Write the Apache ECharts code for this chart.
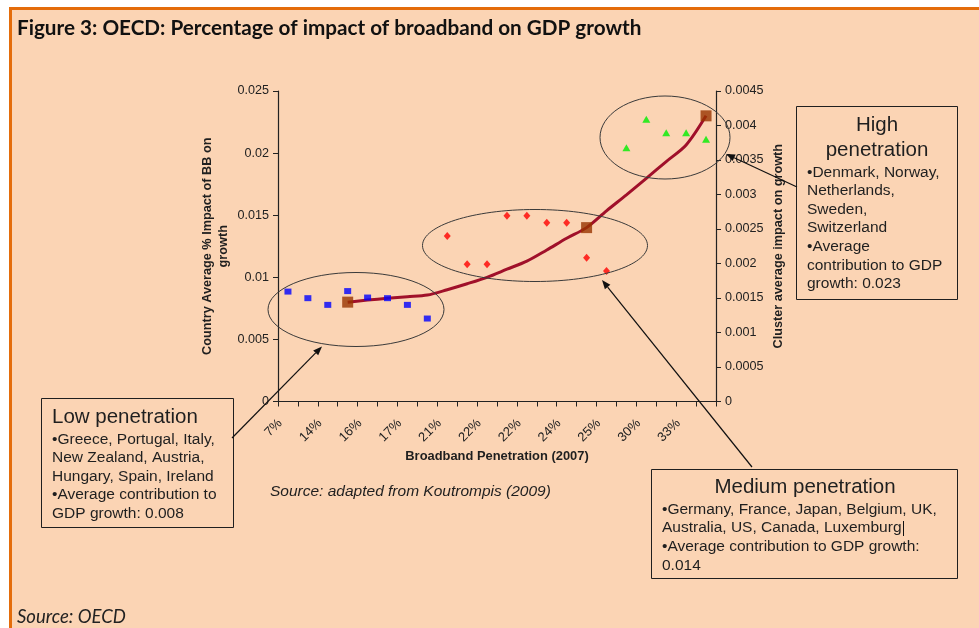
<!DOCTYPE html>
<html>
<head>
<meta charset="utf-8">
<script src="https://cdn.jsdelivr.net/npm/echarts@6/dist/echarts.min.js"></script>
<style>
  html, body { margin: 0; padding: 0; background: #ffffff; }
  #chart { width: 979px; height: 628px; }
</style>
</head>
<body>
<div id="chart"></div>
<script>
// Broadband penetration per country (2007), ordered from lowest to highest
const penetration = ['7%', '12%', '14%', '15%', '16%', '16%', '17%', '19%', '21%', '21%', '22%',
                     '22%', '22%', '23%', '24%', '25%', '25%', '27%', '30%', '31%', '33%', '35%'];

// Country average % impact of broadband on growth, per penetration cluster
const lowImpact = [0.00885, 0.00832, 0.00778, 0.00889, 0.00837, 0.00832, 0.00778, 0.00668];
const mediumImpact = [0.01333, 0.01105, 0.01105, 0.01496, 0.01496, 0.0144, 0.0144, 0.01158, 0.01051];
const highImpact = [0.02044, 0.02272, 0.02164, 0.02164, 0.02111];

// Cluster average trend, starting at the fourth country
const trendStart = 3;
const clusterTrend = [0.0080, 0.00817, 0.00831, 0.00844, 0.00857, 0.0090, 0.00948, 0.0100, 0.01065,
                      0.0113, 0.0122, 0.01314, 0.014, 0.01535, 0.01664, 0.01797, 0.01932, 0.02065, 0.023];

// Average contribution of each cluster and the country where it is marked
const clusterAverages = [0.008, 0.014, 0.023];
const clusterAt = [3, 15, 21];

const leftTicks = { min: 0, max: 0.025, interval: 0.005 };
const rightTicks = { min: 0, max: 0.0045, interval: 0.0005 };

const PEACH = '#FBD4B4';
const ORANGE = '#E46C0A';
const INK = '#1f1f1f';
const SANS = '"Liberation Sans", Arial, sans-serif';

const lowOffset = 0;
const mediumOffset = lowImpact.length;
const highOffset = lowImpact.length + mediumImpact.length;

const lowData = lowImpact.map((v, i) => [lowOffset + i, v]);
const mediumData = mediumImpact.map((v, i) => [mediumOffset + i, v]);
const highData = highImpact.map((v, i) => [highOffset + i, v]);
const trendData = penetration.map((_, i) =>
  i >= trendStart ? clusterTrend[i - trendStart] : null);
const averageData = clusterAverages.map((v, i) => [clusterAt[i], v]);

// Line with an arrowhead at its end point
function arrow(x1, y1, x2, y2) {
  const a = Math.atan2(y2 - y1, x2 - x1);
  const len = 9, half = 3.5;
  const bx = x2 - len * Math.cos(a), by = y2 - len * Math.sin(a);
  const px = -Math.sin(a) * half, py = Math.cos(a) * half;
  return [
    { type: 'line', shape: { x1: x1, y1: y1, x2: bx, y2: by },
      style: { stroke: '#111', lineWidth: 1.2 }, z: 20 },
    { type: 'polygon', shape: { points: [[x2, y2], [bx + px, by + py], [bx - px, by - py]] },
      style: { fill: '#111' }, z: 20 }
  ];
}

function txt(x, y, text, font, align) {
  return { type: 'text', x: x, y: y, z: 20,
    style: { text: text, font: font, fill: INK, align: align || 'left', verticalAlign: 'middle' } };
}

function ring(cx, cy, rx, ry) {
  return { type: 'ellipse', shape: { cx: cx, cy: cy, rx: rx, ry: ry }, z: 15,
    style: { fill: 'none', stroke: '#3a3a3a', lineWidth: 1 } };
}

const bodyFont = '15.5px ' + SANS;
const headFont = '20.5px ' + SANS;

const graphics = [
  // page panel with orange frame
  { type: 'rect', shape: { x: 9, y: 7, width: 980, height: 630 }, style: { fill: PEACH }, z: -10 },
  { type: 'rect', shape: { x: 9, y: 7, width: 980, height: 3 }, style: { fill: ORANGE }, z: -9 },
  { type: 'rect', shape: { x: 9, y: 7, width: 3, height: 630 }, style: { fill: ORANGE }, z: -9 },
  { type: 'text', x: 17, y: 28, z: 20,
    style: { text: 'Figure 3: OECD: Percentage of impact of broadband on GDP growth',
             font: 'bold 20.7px Lato, sans-serif', fill: '#111', verticalAlign: 'middle' } },
  { type: 'text', x: 17, y: 617, z: 20,
    style: { text: 'Source: OECD', font: 'italic 18.5px Lato, sans-serif', fill: '#222', verticalAlign: 'middle' } },
  { type: 'text', x: 270, y: 492, z: 20,
    style: { text: 'Source: adapted from Koutrompis (2009)', font: 'italic 15.5px ' + SANS, fill: INK, verticalAlign: 'middle' } },

  // cluster rings
  ring(356, 309.5, 88, 37),
  ring(535, 245.5, 112.5, 36),
  ring(665, 137.5, 65, 41.5),

  // Low penetration box
  { type: 'rect', shape: { x: 41.5, y: 398.5, width: 192, height: 129 }, z: 18,
    style: { fill: 'none', stroke: INK, lineWidth: 1 } },
  txt(52, 417, 'Low penetration', headFont),
  txt(52, 439.5, '\u2022Greece, Portugal, Italy,', bodyFont),
  txt(52, 458, 'New Zealand, Austria,', bodyFont),
  txt(52, 476.5, 'Hungary, Spain, Ireland', bodyFont),
  txt(52, 495, '\u2022Average contribution to', bodyFont),
  txt(52, 513.5, 'GDP growth: 0.008', bodyFont),

  // Medium penetration box
  { type: 'rect', shape: { x: 651.5, y: 469.5, width: 306, height: 109 }, z: 18,
    style: { fill: 'none', stroke: INK, lineWidth: 1 } },
  txt(805, 487, 'Medium penetration', headFont, 'center'),
  txt(662, 509.5, '\u2022Germany, France, Japan, Belgium, UK,', bodyFont),
  txt(662, 528, 'Australia, US, Canada, Luxemburg', bodyFont),
  { type: 'line', shape: { x1: 903.5, y1: 521, x2: 903.5, y2: 536 }, style: { stroke: '#111', lineWidth: 1 }, z: 20 },
  txt(662, 547, '\u2022Average contribution to GDP growth:', bodyFont),
  txt(662, 566, '0.014', bodyFont),

  // High penetration box
  { type: 'rect', shape: { x: 796.5, y: 106.5, width: 161, height: 193 }, z: 18,
    style: { fill: 'none', stroke: INK, lineWidth: 1 } },
  txt(877, 125, 'High', headFont, 'center'),
  txt(877, 150, 'penetration', headFont, 'center'),
  txt(807, 172.5, '\u2022Denmark, Norway,', bodyFont),
  txt(807, 191, 'Netherlands,', bodyFont),
  txt(807, 209.5, 'Sweden,', bodyFont),
  txt(807, 228, 'Switzerland', bodyFont),
  txt(807, 246.5, '\u2022Average', bodyFont),
  txt(807, 265.5, 'contribution to GDP', bodyFont),
  txt(807, 284, 'growth: 0.023', bodyFont)
].concat(
  arrow(232, 438, 322, 346.5),
  arrow(752, 467, 602, 280),
  arrow(797, 187, 726, 154)
);

const chart = echarts.init(document.getElementById('chart'), null, { renderer: 'canvas' });

chart.setOption({
  backgroundColor: '#ffffff',
  animation: false,
  textStyle: { fontFamily: SANS },
  grid: { left: 278, right: 263, top: 91, bottom: 226.5, containLabel: false },
  xAxis: {
    type: 'category',
    data: penetration,
    boundaryGap: true,
    name: 'Broadband Penetration (2007)',
    nameLocation: 'middle',
    nameGap: 48,
    nameTextStyle: { fontFamily: SANS, fontWeight: 'bold', fontSize: 12.9, color: INK },
    axisLine: { lineStyle: { color: '#222', width: 1.2 } },
    axisTick: { show: true, interval: 0, alignWithLabel: false, length: 5, lineStyle: { color: '#222' } },
    axisLabel: { interval: 1, rotate: 45, fontSize: 13, color: '#222', margin: 12,
                 padding: [0, 11, 0, 0], fontFamily: SANS },
    splitLine: { show: false }
  },
  yAxis: [
    {
      type: 'value',
      min: leftTicks.min, max: leftTicks.max, interval: leftTicks.interval,
      name: 'Country Average % Impact of BB on\ngrowth',
      nameLocation: 'middle',
      nameRotate: 90,
      nameGap: 47,
      nameTextStyle: { fontFamily: SANS, fontWeight: 'bold', fontSize: 12.7, color: INK, lineHeight: 16 },
      axisLine: { show: true, lineStyle: { color: '#222', width: 1.2 } },
      axisTick: { show: true, length: 5, lineStyle: { color: '#222' } },
      axisLabel: { fontSize: 12.6, color: '#222', margin: 9, fontFamily: SANS },
      splitLine: { show: false }
    },
    {
      type: 'value',
      position: 'right',
      min: rightTicks.min, max: rightTicks.max, interval: rightTicks.interval,
      name: 'Cluster average impact on growth',
      nameLocation: 'middle',
      nameRotate: 90,
      nameGap: 56,
      nameTextStyle: { fontFamily: SANS, fontWeight: 'bold', fontSize: 12.7, color: INK },
      axisLine: { show: true, lineStyle: { color: '#222', width: 1.2 } },
      axisTick: { show: true, length: 5, lineStyle: { color: '#222' } },
      axisLabel: { fontSize: 12.6, color: '#222', margin: 9, fontFamily: SANS },
      splitLine: { show: false }
    }
  ],
  series: [
    {
      name: 'Cluster trend', type: 'line', yAxisIndex: 0, data: trendData,
      smooth: 0.3, symbol: 'none', connectNulls: false,
      lineStyle: { color: '#A0102A', width: 3 }, z: 3
    },
    {
      name: 'Low penetration', type: 'scatter', data: lowData,
      symbol: 'rect', symbolSize: [7, 6], itemStyle: { color: '#0000FF' }, z: 4
    },
    {
      name: 'Medium penetration', type: 'scatter', data: mediumData,
      symbol: 'diamond', symbolSize: [7, 8], itemStyle: { color: '#FF0000' }, z: 4
    },
    {
      name: 'High penetration', type: 'scatter', data: highData,
      symbol: 'triangle', symbolSize: [8, 7], itemStyle: { color: '#00EE00' }, z: 4
    },
    {
      name: 'Cluster average', type: 'scatter', data: averageData,
      symbol: 'rect', symbolSize: 11, itemStyle: { color: '#993300' }, z: 5
    }
  ],
  graphic: graphics
});
</script>
</body>
</html>
